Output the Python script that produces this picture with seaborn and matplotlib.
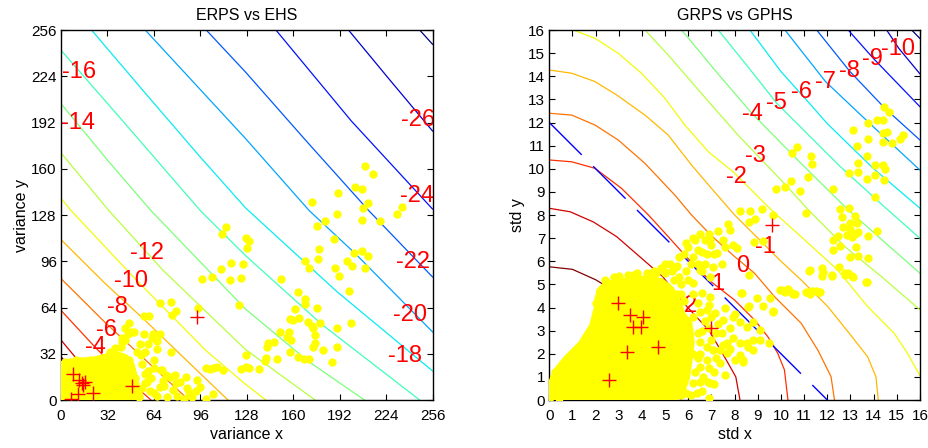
import matplotlib
matplotlib.use("Agg")
import matplotlib.pyplot as plt
import seaborn as sns
from matplotlib import colors

sns.set_theme(style="ticks")
plt.rcParams["font.family"] = ["Liberation Sans", "DejaVu Sans"]
plt.rcParams.update({"text.color": "black", "axes.labelcolor": "black",
                     "xtick.color": "black", "ytick.color": "black",
                     "axes.edgecolor": "black"})

# ---------------- data: left panel (ERPS vs EHS) ----------------
left_title = "ERPS vs EHS"
left_xlabel = "variance x"
left_ylabel = "variance y"
left_ticks = [0, 32, 64, 96, 128, 160, 192, 224, 256]

left_lines = {
    -28: [(247, 256), (256, 246)],
    -26: [(198, 256), (226, 222), (256, 186)],
    -24: [(148, 256), (200, 193), (256, 132)],
    -22: [(100, 256), (127, 227), (170, 178), (212, 131), (256, 85)],
    -20: [(58, 256), (127, 181), (171, 131), (203, 101), (256, 47)],
    -18: [(21, 256), (60, 210), (96, 168), (127, 133), (190, 75), (256, 20)],
    -16: [(0, 242), (40, 196), (96, 131), (127, 100), (180, 52), (247, 0)],
    -14: [(0, 205), (32, 166), (62, 131), (127, 63), (170, 27), (209, 0)],
    -12: [(0, 171), (33, 131), (70, 90), (127, 35), (175, 0)],
    -10: [(0, 139.5), (7, 131), (50, 85), (100, 34), (127, 11), (141, 0)],
    -8: [(0, 111), (30, 81), (58, 55), (90, 24), (115, 0)],
    -6: [(0, 84), (30, 54), (60, 26), (88, 0)],
    -4: [(0, 62), (24, 36), (45, 15), (62, 0)],
    -2: [(0, 41.5), (12, 27), (28, 10), (38, 0)],
    0: [(0, 30), (5, 24), (16, 10), (24, 0)],
}
left_blue = [(0, 19.6), (8.5, 11.5), (20, 0)]

left_labels = [("-16", 12.2, 226.7), ("-14", 11.5, 191.4), ("-26", 246, 193.7),
               ("-24", 245, 141.1), ("-22", 242.7, 95.7), ("-20", 240.4, 59),
               ("-18", 236.7, 30.4), ("-12", 59, 101.5), ("-10", 48.4, 82.1),
               ("-8", 38.6, 64.3), ("-6", 31, 48.7), ("-4", 23.6, 36.5), ("-2", 17, 21.5)]

left_core = [(0, 0), (0, 22), (6, 25.5), (14, 26.5), (22, 27), (30, 29), (38, 31), (44, 29),
             (48, 24), (50, 16), (52, 8), (54, 2), (52, 0)]

left_points = [
    (209.4, 161.9), (215.1, 156.3), (202.5, 147.1), (207.6, 146), (191, 143.4), (173.1, 136.7),
    (211.7, 136), (208.2, 132.6), (231.2, 128.4), (235.1, 133.3), (190.3, 128.4), (181.8, 124.1),
    (176.6, 120.6), (219.7, 124.1), (207.6, 124.8), (110.7, 114.6), (113.4, 119.5), (127.2, 111.8),
    (129.5, 110.2), (127.9, 104.9), (188, 111.1), (177.7, 104.2), (207.6, 103.3), (201.8, 101.5),
    (211.7, 99.8), (177.3, 97.3), (168.1, 96.4), (196.8, 96.4), (200.7, 92.9), (170.8, 91.5),
    (188.7, 91.5), (209.4, 91.5), (116.9, 94.5), (125.6, 93.9), (110, 90.4), (103.8, 85.3),
    (96.9, 83.5), (116.4, 83), (123.8, 84.6), (151.3, 83.7), (191.5, 86), (198.4, 75.6),
    (163, 74.9), (161.2, 62.7), (168.1, 69.6), (168.1, 66.2), (176.1, 63.4), (122.6, 65.7),
    (94.6, 63.4), (68.2, 67.3), (75.5, 68), (79.2, 61.8), (76.7, 58.8), (157.7, 55.8),
    (160, 55.3), (163.9, 57), (178.4, 53), (172.7, 51.4), (170.4, 53.7), (173.8, 49.6),
    (175, 45), (157, 47.3), (150.8, 47.3), (158.2, 41.5), (155.4, 43.8), (189.9, 49.6),
    (199.8, 53.5), (146.7, 40.4), (142.8, 39.2), (141.7, 36.9), (148.6, 28.4), (175, 39.2),
    (180.7, 34.6), (173.8, 36.9), (189.9, 36.9), (157.7, 33), (163.5, 30), (167.4, 28.4),
    (171.1, 28.4), (186.9, 26.1), (141, 28.8), (140.5, 27.2), (127.2, 31.1), (127.2, 22.6),
    (123.8, 21.4), (129.5, 22.4), (136.4, 21.4), (111.8, 20.8), (107.7, 23.1), (104.9, 22.4),
    (102.6, 21.4), (99.6, 22.4), (93.9, 13.8), (85.9, 15.7), (78.5, 17.3), (69.3, 20.8),
    (75.5, 33.4), (60.6, 58.1),
    (46, 46), (50, 47), (57, 46), (63.6, 46), (62.5, 42.7), (60, 39), (54.4, 39), (44, 41.5),
    (41, 37), (37, 36), (34, 33), (52, 33), (66, 35), (69, 21), (75, 16), (82, 12.7),
    (77, 7), (86.6, 8), (68, 9), (61, 6), (93, 6), (54, 2.3), (73, 2.3), (59, 12.7),
    (51, 15), (43, 18), (33, 30), (27, 28), (20, 27.5), (13, 27), (6, 26), (1.6, 25),
    (56, 25), (60, 20), (64, 28), (58, 33), (47, 28), (42, 43), (68, 46), (66, 41),
    (57, 58), (48, 47), (55, 31), (62, 15), (70, 13), (66, 3), (80, 3), (85, 1), (100, 1),
    (105, 4), (47, 53), (44, 50), (90, 2), (96, 9), (64, 22), (72, 17), (58, 12), (42, 40),
    (10, 27.5), (3, 26.5), (56, 8), (52, 4), (88, 5), (79, 12), (71, 10), (64, 5),
    (58, 18),
]

left_plus = [(8.5, 18), (12.5, 13.5), (14.5, 12), (16.5, 12.5), (15, 10.5), (12, 4), (22, 5),
             (7, 0.5), (49, 9.5), (93.5, 57.5)]

# ---------------- data: right panel (GRPS vs GPHS) ----------------
right_title = "GRPS vs GPHS"
right_xlabel = "std x"
right_ylabel = "std y"
right_ticks = list(range(0, 17))

right_lines = {
    3: [(0, 5.76), (1.0, 5.65), (2.0, 5.2), (2.5, 4.9), (3.5, 4.1), (4.5, 3.1), (5.2, 2.0),
        (5.45, 1.3), (5.6, 0.5), (5.7, 0)],
    2: [(0, 8.29), (0.9, 8.14), (1.9, 7.7), (2.9, 7.07), (3.9, 6.2), (4.9, 5.33), (5.7, 4.3),
        (6.9, 3.0), (7.6, 1.8), (8.05, 1.0), (8.23, 0)],
    1: [(0, 10.38), (0.97, 10.3), (1.97, 10.02), (3.12, 9.15), (4.28, 8.0), (5.1, 7.1),
        (6.0, 6.1), (7.0, 5.1), (8.0, 4.32), (8.86, 3.46), (9.43, 2.74), (9.86, 2.02),
        (10.15, 1.3), (10.3, 0)],
    0: [(0, 12.4), (0.97, 12.32), (1.97, 11.89), (2.98, 11.24), (4.13, 10.23), (5.42, 8.86),
        (6.14, 8.0), (7.0, 7.1), (8.0, 6.2), (8.86, 5.48), (9.72, 4.47), (10.87, 3.32),
        (11.59, 2.16), (12.16, 1.01), (12.31, 0)],
    -1: [(0, 14.27), (0.97, 14.13), (1.97, 13.77), (2.91, 13.19), (4.13, 12.32), (5.13, 11.46),
         (6.14, 10.16), (7.0, 9.15), (8.0, 8.0), (9.08, 6.92), (10.0, 6.0), (10.87, 5.19),
         (12.02, 4.04), (12.95, 2.88), (13.74, 1.87), (14.1, 1.0), (14.2, 0)],
    -2: [(1.04, 16.0), (1.97, 15.64), (2.98, 14.99), (3.98, 14.13), (4.99, 13.05), (5.85, 11.89),
         (6.86, 10.74), (7.93, 9.87), (9.58, 8.22), (10.87, 7.06), (12.45, 5.62), (13.74, 4.04),
         (14.89, 2.88), (15.46, 2.02), (16.0, 1.05)],
    -3: [(4.13, 16.0), (5.13, 14.92), (6.14, 13.75), (7.14, 12.6), (8.15, 11.45), (9.2, 10.35),
         (10.2, 9.3), (11.18, 8.22), (12.76, 6.63), (14.34, 5.33), (16.0, 3.9)],
    -4: [(5.71, 16.0), (7.2, 14.2), (8.74, 12.4), (10.8, 10.3), (12.9, 8.22), (14.5, 6.8),
         (16.0, 5.48)],
    -5: [(7.29, 16.0), (8.5, 14.5), (9.82, 12.83), (12.5, 10.15), (14.3, 8.5), (16.0, 6.99)],
    -6: [(8.66, 16.0), (10.0, 14.2), (10.9, 13.2), (12.0, 11.95), (14.0, 10.0), (16.0, 8.29)],
    -7: [(10.17, 16.0), (11.93, 13.76), (14.0, 11.8), (16.0, 9.94)],
    -8: [(11.54, 16.0), (12.98, 14.2), (14.5, 12.6), (16.0, 11.24)],
    -9: [(12.9, 16.0), (13.98, 14.78), (16.0, 12.68)],
    -10: [(14.56, 16.0), (15.09, 15.2), (16.0, 14.1)],
    -11: [(15.64, 16.0), (16.0, 15.63)],
}
right_boundary = [(0, 12), (12, 0)]

right_labels = [("-10", 15.05, 15.2), ("-9", 13.96, 14.76), ("-8", 12.96, 14.22),
                ("-7", 11.92, 13.76), ("-6", 10.9, 13.33), ("-5", 9.82, 12.84),
                ("-4", 8.75, 12.36), ("-3", 8.88, 10.56), ("-2", 8.09, 9.63),
                ("-1", 9.34, 6.63), ("0", 8.35, 5.79), ("1", 7.29, 5.0), ("2", 6.1, 4.06)]

right_core = [(0, 0), (0.05, 0.5), (0.3, 1.2), (0.8, 1.8), (1.4, 2.4), (1.9, 3.2), (2.1, 4.0),
              (2.2, 4.7), (2.5, 5.0), (3.2, 5.1), (4.1, 5.2), (4.8, 5.1), (5.2, 4.8), (5.5, 4.3),
              (5.7, 3.7), (6.0, 3.3), (6.1, 2.5), (6.0, 1.7), (5.9, 1.0), (5.7, 0.4), (5.4, 0.1),
              (4, 0.05), (2, 0.05), (1, 0.1)]

right_points = [
    (14.45, 12.68), (14.66, 12.46), (13.77, 11.99), (14.16, 12.1), (14.42, 12.1), (13.09, 11.67),
    (15.28, 11.46), (15.14, 11.27), (14.42, 11.53), (14.56, 11.6), (13.27, 10.99), (13.77, 11.27),
    (14.42, 11.17), (14.78, 11.12), (13.7, 10.56), (13.34, 10.23), (14.06, 10.16), (14.42, 10.16),
    (14.49, 10.01), (12.94, 9.83), (13.34, 9.84), (13.7, 9.55), (14.06, 9.73), (14.46, 9.51),
    (14.06, 8.76), (12.26, 9.14), (12.55, 8.24), (12.62, 7.93), (12.94, 8.29), (13.19, 7.95),
    (12.98, 7.64), (13.27, 7.64), (12.69, 7.46), (12.98, 7.38), (13.19, 7.2), (12.84, 7.13),
    (13.05, 7.03), (13.34, 7.28), (12.26, 6.92), (12.47, 7.09), (12.55, 6.66), (12.26, 6.48),
    (13.24, 6.63), (12.98, 6.2), (13.34, 6.22), (13.77, 6.12), (14.13, 7.32), (13.77, 7.09),
    (12.52, 5.76), (12.76, 5.39), (13.09, 5.33), (12.91, 5.5), (13.65, 5.12), (11.76, 5.69),
    (11.78, 5.36), (12.19, 5.36), (11.22, 5.59), (11.22, 4.68), (11.5, 4.73), (11.64, 4.68),
    (11.25, 4.57), (10.49, 10.69), (10.68, 10.95), (11.28, 10.56), (11.32, 10.2), (11.18, 9.65),
    (10.82, 9.03), (10.43, 9.48), (10.17, 9.22), (9.78, 9.12), (11.08, 8.07), (9.67, 8.0),
    (9.17, 8.24), (8.66, 8.18), (8.88, 7.82), (8.63, 7.71), (8.23, 8.18), (9.24, 6.89),
    (8.83, 6.84), (7.7, 7.59), (10.03, 4.76), (10.32, 4.81), (10.46, 4.61), (10.17, 4.65),
    (10.6, 4.58), (9.53, 4.39), (8.95, 4.39), (9.24, 4.06), (9.67, 3.82), (8.63, 4.06),
    (8.3, 4.64), (8.6, 5.4), (8.26, 4.61),
    (6.3, 6.92), (6.94, 6.92), (7.22, 6.34), (7.51, 6.92), (7.8, 7.35), (7.94, 6.7),
    (8.09, 6.56), (6.5, 5.62), (6.94, 5.33), (7.08, 5.76), (7.44, 5.9), (6.22, 5.04),
    (6.58, 4.61), (6.94, 4.47), (6.79, 3.89), (7.15, 3.75), (7.51, 3.46), (7.94, 3.6),
    (8.23, 3.39), (8.52, 3.17), (8.8, 3.39), (9.09, 3.03), (7.44, 2.88), (7.66, 2.45),
    (7.94, 2.67), (8.23, 2.45), (8.59, 2.3), (7.66, 2.02), (8.02, 1.73), (8.37, 1.73),
    (7.37, 1.59), (7.08, 2.16), (6.79, 1.73), (6.5, 1.44), (6.65, 1.01), (6.22, 0.72),
    (6.94, 0.72), (6.36, 0.29), (7.37, 2.16), (9.09, 2.59), (8.8, 2.16), (9.5, 2.45),
    (8.8, 2.59), (8.52, 2.45), (8.23, 1.94), (8.37, 1.65), (8.01, 3.74), (9.96, 4.76),
    (10.25, 4.76), (10.53, 4.58), (11.1, 4.68), (11.35, 4.71), (11.68, 4.68), (8.59, 4.03),
    (9.67, 3.85), (6.86, 0.79), (5.5, 5.8), (5.8, 6.3), (6.0, 6.6), (6.2, 6.2), (5.9, 5.6),
    (6.4, 5.9), (6.6, 6.4), (6.7, 6.9), (5.6, 5.3), (5.3, 5.6), (5.0, 5.5), (6.0, 5.2),
    (6.6, 5.6), (7.1, 6.3), (7.3, 7.3), (6.9, 7.2), (7.6, 6.6), (7.6, 4.0), (6.4, 4.2),
    (6.7, 3.4), (6.4, 2.9), (6.9, 3.1), (6.5, 2.5), (6.8, 2.3), (7.3, 3.3), (7.8, 3.1),
    (6.6, 0.4), (5.9, 0.3), (6.3, 1.2), (7.1, 1.2), (7.6, 1.1), (6.9, 0.1), (11.25, 5.62),
    (11.83, 5.55), (12.19, 5.4), (12.76, 5.48), (13.05, 5.36), (13.7, 5.12),
    (5.6, 6.2), (5.9, 6.8), (6.2, 7.0), (6.5, 7.2), (6.1, 5.9), (6.4, 6.5), (6.8, 6.3),
    (7.0, 6.7), (6.7, 5.9), (5.7, 5.0), (6.2, 4.6), (6.5, 3.8), (6.9, 4.1), (5.4, 5.2),
    (5.2, 5.9), (5.0, 5.9), (4.8, 5.7), (4.5, 5.6), (4.2, 5.5), (3.8, 5.5), (3.4, 5.4),
    (2.8, 5.3), (5.8, 2.0), (6.2, 2.0), (6.5, 2.0), (7.0, 2.6), (7.2, 2.9), (6.6, 3.0),
    (7.0, 3.6), (6.9, 1.4), (7.2, 1.8), (6.4, 1.8), (6.1, 0.2), (6.5, 0.8), (5.7, 0.2),
    (7.5, 2.4), (7.8, 2.2), (7.1, 0.7), (5.8, 4.3), (5.5, 4.6), (6.0, 3.0), (6.2, 3.6),
    (0.2, 0.4), (0.3, 0.9), (0.4, 1.3), (0.6, 0.8), (0.7, 1.6), (1.0, 2.0), (1.2, 1.5),
    (1.3, 2.3), (1.6, 2.6), (1.8, 3.0), (1.9, 2.2), (2.0, 3.6), (2.1, 4.4), (0.5, 0.3),
    (0.9, 0.3), (1.5, 0.5), (0.1, 0.2), (0.25, 1.2), (2.4, 5.2), (3.0, 5.35), (3.6, 5.4),
    (4.4, 5.45), (5.0, 5.55), (2.3, 4.8), (2.0, 4.2), (1.1, 0.6), (0.4, 0.1), (4.6, 5.5),
    (5.4, 5.7), (5.7, 4.6), (0.0, 0.0),
]

right_plus = [(2.95, 4.18), (3.48, 3.67), (3.6, 3.14), (3.94, 3.14), (4.03, 3.57), (3.34, 2.06),
              (4.68, 2.28), (2.59, 0.86), (7.0, 3.1), (9.6, 7.56)]

# ---------------- drawing ----------------
fig = plt.figure(figsize=(9.29, 4.48), dpi=100)
ax1 = fig.add_axes([61 / 929, 48 / 448, 371.7 / 929, 370 / 448])
ax2 = fig.add_axes([549.3 / 929, 48 / 448, 370.7 / 929, 370 / 448])

YELLOW = (1.0, 1.0, 0.0)
jet = plt.get_cmap("jet")


def xy(pairs):
    return [p[0] for p in pairs], [p[1] for p in pairs]


def draw_panel(ax, lines, norm, extra_blue, core, pts, plus, labels, ticks, lim,
               title, xlabel, ylabel, dashed):
    for lev, pairs in lines.items():
        xs, ys = xy(pairs)
        sns.lineplot(x=xs, y=ys, ax=ax, color=jet(norm(lev)), lw=0.9,
                     sort=False, estimator=None, zorder=2)
    bx, by = xy(extra_blue)
    sns.lineplot(x=bx, y=by, ax=ax, color=(0, 0, 1), lw=1.0,
                 sort=False, estimator=None, zorder=2)
    if dashed:
        ax.lines[-1].set_dashes([33, 11.6])
    for t, x, y in labels:
        ax.text(x, y, t, color="red", fontsize=17, ha="center", va="center", zorder=2.5)
    cx, cy = xy(core)
    ax.fill(cx, cy, facecolor=YELLOW, edgecolor=YELLOW, lw=6,
            joinstyle="round", zorder=3)
    px, py = xy(pts)
    sns.scatterplot(x=px, y=py, ax=ax, color=YELLOW, s=36, linewidth=0, zorder=3)
    qx, qy = xy(plus)
    sns.scatterplot(x=qx, y=qy, ax=ax, marker="+", color="red", s=90,
                    linewidth=1.0, zorder=4)
    ax.set_xlim(*lim)
    ax.set_ylim(*lim)
    ax.set_xticks(ticks)
    ax.set_yticks(ticks)
    ax.tick_params(direction="in", top=True, right=True, bottom=True, left=True,
                   length=4, width=0.8, labelsize=11)
    ax.tick_params(axis="x", pad=6.5)
    ax.tick_params(axis="y", pad=3)
    for sp in ax.spines.values():
        sp.set_visible(True)
        sp.set_linewidth(1.0)
        sp.set_color("black")
    ax.set_title(title, fontsize=11.5, pad=7)
    ax.set_xlabel(xlabel, fontsize=11.5, labelpad=3)
    ax.set_ylabel(ylabel, fontsize=11.5, labelpad=2)


draw_panel(ax1, left_lines, colors.Normalize(-28, 0), left_blue, left_core, left_points,
           left_plus, left_labels, left_ticks, (0, 256), left_title, left_xlabel,
           left_ylabel, False)
draw_panel(ax2, right_lines, colors.Normalize(-11, 3), right_boundary, right_core,
           right_points, right_plus, right_labels, right_ticks, (0, 16), right_title,
           right_xlabel, right_ylabel, True)

fig.savefig("out.png", dpi=100)
